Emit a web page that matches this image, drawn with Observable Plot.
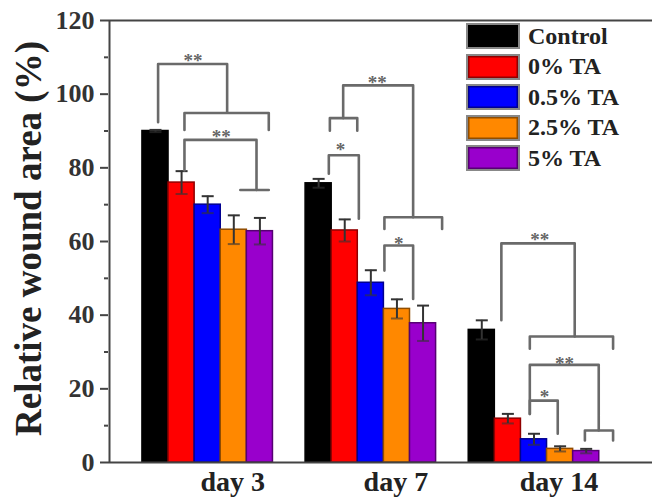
<!DOCTYPE html>
<html><head><meta charset="utf-8">
<script src="https://cdn.jsdelivr.net/npm/d3@7"></script>
<script src="https://cdn.jsdelivr.net/npm/@observablehq/plot@0.6"></script>
<style>
body{margin:0;background:#fff;}
#wrap{position:relative;width:652px;height:504px;overflow:hidden;}
#legend{position:absolute;left:466px;top:23px;font-family:"Liberation Serif",serif;font-weight:bold;font-size:24px;color:#222;}
.row{display:flex;align-items:center;height:26px;margin-bottom:4.5px;}
.sw{box-sizing:border-box;width:54px;height:26px;border:2px solid #888;margin-right:8px;}
</style></head><body><div id="wrap"></div>
<script>
const days = ["day 3", "day 7", "day 14"];
const series = ["Control", "0% TA", "0.5% TA", "2.5% TA", "5% TA"];
const colors = ["#000000", "#ff0000", "#0000ff", "#ff8800", "#9900cc"];
// values per series (day 3, day 7, day 14)
const control = [90.0, 75.8, 36.0];
const ta0 = [76.0, 63.0, 11.9];
const ta05 = [70.0, 48.8, 6.3];
const ta25 = [63.2, 41.7, 3.7];
const ta5 = [62.8, 37.8, 3.1];
// standard deviations
const controlErr = [0.3, 1.2, 2.6];
const ta0Err = [3.1, 3.0, 1.3];
const ta05Err = [2.3, 3.4, 1.5];
const ta25Err = [3.9, 2.6, 0.7];
const ta5Err = [3.6, 4.8, 0.6];
const yTicks = [0, 20, 40, 60, 80, 100, 120];
const yMinor = [10, 30, 50, 70, 90, 110];
// significance brackets: day index, left & right position (bar-width units within group), top, left-leg end, right-leg end
const brDay = [0, 0, 0, 0, 1, 1, 1, 1, 1, 2, 2, 2, 2, 2];
const brA = [0.60, 1.61, 1.61, 3.75, 1.44, 0.93, 0.89, 3.02, 3.02, 1.25, 2.34, 2.34, 2.34, 4.45];
const brB = [3.245, 4.84, 4.37, 4.84, 4.12, 1.98, 2.04, 5.23, 4.12, 4.06, 5.53, 4.98, 3.41, 5.53];
const brTop = [108.2, 94.9, 87.6, 74.0, 102.4, 93.5, 83.4, 66.6, 58.9, 59.5, 34.2, 26.5, 16.8, 8.7];
const brL = [92.4, 90.3, 79.3, 74.0, 93.5, 90.1, 78.4, 63.4, 52.1, 38.6, 30.9, 13.2, 13.2, 6.0];
const brR = [95.1, 90.3, 74.0, 74.0, 66.6, 90.1, 66.2, 63.4, 44.4, 34.2, 30.9, 8.7, 7.8, 6.0];
// significance labels
const stDay = [0, 0, 1, 1, 1, 2, 2, 2];
const stX = [1.94, 3.02, 2.75, 1.34, 3.57, 2.72, 3.67, 2.90];
const stY = [110.5, 89.7, 104.5, 86.1, 60.8, 61.8, 28.2, 19.3];
const stText = ["**", "**", "**", "*", "*", "**", "**", "*"];

const values = [control, ta0, ta05, ta25, ta5];
const errs = [controlErr, ta0Err, ta05Err, ta25Err, ta5Err];
const groupStep = 6.25;
const table = [];
days.forEach((day, i) => series.forEach((s, j) => table.push({
  day, series: s, x0: i * groupStep + j, value: values[j][i], err: errs[j][i],
  fill: colors[j], stroke: d3.color(colors[j]).darker(1.6).formatHex()
})));
const brPts = [];
brDay.forEach((d, k) => {
  const a = d * groupStep + brA[k], b = d * groupStep + brB[k];
  brPts.push({k, x: a, y: brL[k]}, {k, x: a, y: brTop[k]}, {k, x: b, y: brTop[k]}, {k, x: b, y: brR[k]});
});
const stars = stDay.map((d, k) => ({x: d * groupStep + stX[k], y: stY[k], t: stText[k]}));
const centers = days.map((d, i) => i * groupStep + 2.5);
const labelOf = new Map(centers.map((c, i) => [c, days[i]]));
const font = "Liberation Serif, Times New Roman, serif";

const chart = Plot.plot({
  width: 652, height: 504,
  marginLeft: 108, marginRight: 0, marginTop: 20, marginBottom: 42,
  style: {fontFamily: font, fontWeight: "bold", background: "#fff", color: "#333", overflow: "visible"},
  x: {type: "linear", domain: [-1.3, 19.54], axis: null},
  y: {domain: [0, 120], axis: null},
  marks: [
    Plot.rectY(table, {x1: "x0", x2: d => d.x0 + 1, y: "value", fill: "fill", stroke: "stroke", strokeWidth: 1.5}),
    Plot.ruleX(table, {x: d => d.x0 + 0.5, y1: d => d.value - d.err, y2: d => d.value + d.err, stroke: "#333", strokeWidth: 2}),
    Plot.link(table, {x1: d => d.x0 + 0.27, x2: d => d.x0 + 0.73, y1: d => d.value + d.err, y2: d => d.value + d.err, stroke: "#333", strokeWidth: 2}),
    Plot.link(table, {x1: d => d.x0 + 0.27, x2: d => d.x0 + 0.73, y1: d => d.value - d.err, y2: d => d.value - d.err, stroke: "#333", strokeWidth: 2, strokeOpacity: 0.6}),
    Plot.line(brPts, {x: "x", y: "y", z: "k", stroke: "#6a6a6a", strokeWidth: 2.6, curve: "linear"}),
    Plot.text(stars, {x: "x", y: "y", text: "t", fontSize: 19, dy: 5, fill: "#666", fontWeight: "bold"}),
    Plot.ruleY([0, 120], {stroke: "#444", strokeWidth: 2}),
    Plot.ruleX([-1.3], {stroke: "#444", strokeWidth: 2, dx: 1}),
    Plot.axisY({ticks: yTicks, tickSize: 8, tickPadding: 6, fontSize: 26, fontWeight: "bold", stroke: "#444", strokeWidth: 2, label: null, fill: "#333"}),
    Plot.axisY({ticks: yMinor, tickSize: 4, tickFormat: () => "", stroke: "#444", strokeWidth: 2, label: null}),
    Plot.axisX({ticks: centers, tickSize: 0, tickPadding: 9, tickFormat: d => labelOf.get(d), fontSize: 28, fontWeight: "bold", dx: 25, label: null, fill: "#222"}),
    Plot.text(["Relative wound area (%)"], {frameAnchor: "left", textAnchor: "middle", rotate: -90, dx: -79, dy: -3, fontSize: 37, fontWeight: "bold", fill: "#222"})
  ]
});
const wrap = document.getElementById("wrap");
wrap.appendChild(chart);
const legend = document.createElement("div");
legend.id = "legend";
series.forEach((s, j) => {
  const row = document.createElement("div");
  row.className = "row";
  const sw = document.createElement("div");
  sw.className = "sw";
  sw.style.background = colors[j];
  sw.style.boxShadow = "inset 0 0 0 1.5px " + d3.color(colors[j]).darker(1.6).formatHex();
  const t = document.createElement("span");
  t.textContent = s;
  row.appendChild(sw); row.appendChild(t);
  legend.appendChild(row);
});
wrap.appendChild(legend);
</script>
</body></html>
